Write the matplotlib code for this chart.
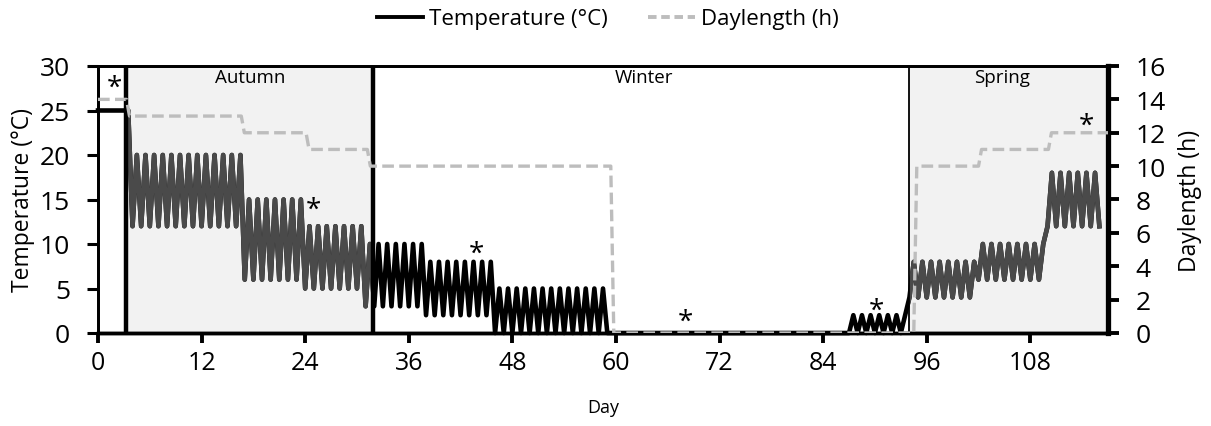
import numpy as np
import matplotlib.pyplot as plt
from matplotlib.patches import Rectangle
from matplotlib.lines import Line2D

plt.rcParams['font.family'] = ['Open Sans', 'DejaVu Sans']

# temperature regime: consecutive blocks of daily cycles (days, daily max, daily min)
block_days = [4, 13, 7, 7, 7, 8, 13, 28, 7, 8, 8, 6]
block_tmax = [25, 20, 15, 12, 10, 8, 5, 0, 2, 8, 10, 18]
block_tmin = [25, 12, 6, 5, 3, 2, 0, 0, 0, 4, 6, 12]

# daylength steps (start day, hours)
dl_start = [0, 3.3, 16.6, 24.1, 31.2, 59.4, 94.5, 102.0, 110.1]
dl_hours = [14, 13, 12, 11, 10, 0, 10, 11, 12]

# seasons
season_names = ['Autumn', 'Winter', 'Spring']
season_edges = [3.3, 31.9, 94.0, 117.0]
season_label_day = [17.6, 63.3, 104.7]

# significance marks (day, temperature)
star_day = [1.9, 25.0, 43.8, 68.1, 90.2, 114.5]
star_temp = [28.0, 14.3, 9.4, 1.7, 3.0, 23.8]

x_end = 117
x_ticks = np.arange(0, 109, 12)

# daily cycle: minimum at start of day, maximum at midday
temp_x, temp_y = [], []
day = 0
for n, hi, lo in zip(block_days, block_tmax, block_tmin):
    for k in range(n):
        temp_x += [day + k, day + k + 0.5]
        temp_y += [lo, hi]
    day += n
temp_x.append(day)
temp_y.append(block_tmin[-1])

dl_x, dl_y = [], []
for i, (s, h) in enumerate(zip(dl_start, dl_hours)):
    e = dl_start[i + 1] if i + 1 < len(dl_start) else x_end
    dl_x += [s + (0.35 if i > 0 else 0), e]
    dl_y += [h, h]

fig = plt.figure(figsize=(12.11, 4.27), dpi=100)
ax = fig.add_axes([98 / 1211, 1 - 334 / 427, 1010 / 1211, 267 / 427])
ax2 = ax.twinx()

# shaded seasons + boundaries
ax.axvspan(season_edges[0], season_edges[1], color='#f2f2f2', zorder=0, lw=0)
ax.axvspan(season_edges[2], season_edges[3], color='#f2f2f2', zorder=0, lw=0)
ax.axvline(season_edges[0], color='black', lw=3.2, zorder=4)
ax.axvline(season_edges[1], color='black', lw=3.2, zorder=4)
ax.axvline(season_edges[2], color='black', lw=1.3, zorder=4)

ax.plot(temp_x, temp_y, color='black', lw=3.3, solid_joinstyle='round', zorder=3, clip_on=False)
for a, b in [(season_edges[0], season_edges[1]), (season_edges[2], season_edges[3])]:
    ln, = ax.plot(temp_x, temp_y, color='#4a4a4a', lw=3.3, solid_joinstyle='round', zorder=3.1)
    ln.set_clip_path(Rectangle((a, -5), b - a, 40, transform=ax.transData))

ax2.plot(dl_x, dl_y, color='#bdbdbd', lw=2.4, dashes=(3.5, 1.6), zorder=3)

for d, t in zip(star_day, star_temp):
    ax.annotate('*', (d, t), xytext=(0, -3), textcoords='offset points',
                ha='center', va='center', fontsize=20)
for name, d in zip(season_names, season_label_day):
    ax.text(d, 28.8, name, ha='center', va='center', fontsize=13.5)

ax.set_xlim(0, x_end)
ax.set_ylim(0, 30)
ax2.set_ylim(0, 16)
ax.set_xticks(x_ticks)
ax.set_yticks(np.arange(0, 31, 5))
ax2.set_yticks(np.arange(0, 17, 2))

ax.tick_params(axis='x', direction='out', length=7, width=2.8, labelsize=18, pad=5)
ax.tick_params(axis='y', direction='out', length=8, width=2.2, labelsize=19, pad=12)
ax2.tick_params(axis='y', direction='out', length=8, width=2.8, labelsize=19, pad=12)

for s in ['left', 'top']:
    ax.spines[s].set_linewidth(2)
    ax2.spines[s].set_linewidth(2)
ax.spines['bottom'].set_linewidth(2.5)
ax2.spines['bottom'].set_linewidth(2.5)
ax2.spines['right'].set_linewidth(3.8)

ax.set_ylabel('Temperature (°C)', fontsize=16.5)
ax2.set_ylabel('Daylength (h)', fontsize=16.5)
ax.set_xlabel('Day', fontsize=13)
ax.yaxis.set_label_coords(-0.062, 0.5)
ax2.yaxis.set_label_coords(1.069, 0.5)
ax.xaxis.set_label_coords(0.5, -0.245)

handles = [Line2D([], [], color='black', lw=2.8),
           Line2D([], [], color='#bdbdbd', lw=2.8, dashes=(2.2, 1.2))]
fig.legend(handles, ['Temperature (°C)', 'Daylength (h)'], loc='center',
           bbox_to_anchor=(0.5017, 1 - 20 / 427), ncol=2, frameon=False, fontsize=16,
           handlelength=2.1, handletextpad=0.27, columnspacing=1.8)

fig.savefig('out.png', dpi=100)
